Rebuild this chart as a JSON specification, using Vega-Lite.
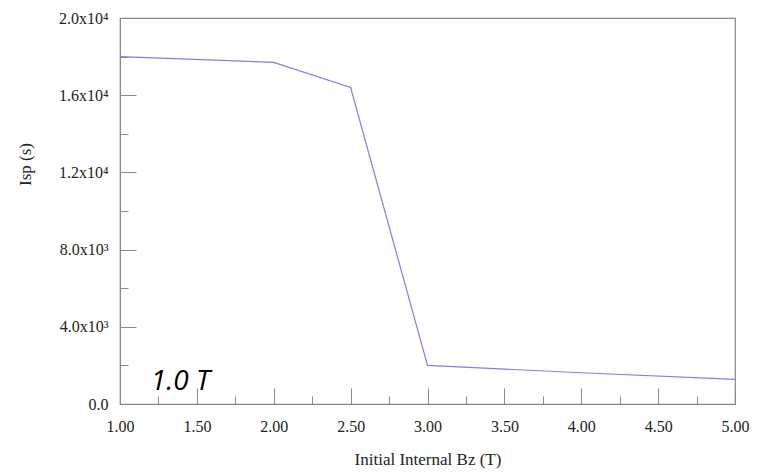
{
  "$schema": "https://vega.github.io/schema/vega-lite/v6.json",
  "width": 615,
  "height": 386,
  "autosize": "none",
  "padding": {"left": 120, "top": 18, "right": 22, "bottom": 69},
  "background": "white",
  "config": {
    "view": {"stroke": "#888888", "strokeWidth": 1.2},
    "axis": {
      "labelFont": "Liberation Serif",
      "titleFont": "Liberation Serif",
      "labelFontSize": 16,
      "titleFontSize": 17,
      "titleFontWeight": "normal",
      "labelColor": "#222222",
      "titleColor": "#222222",
      "domainColor": "#888888",
      "tickColor": "#888888",
      "grid": false
    }
  },
  "resolve": {"axis": {"x": "independent", "y": "independent"}},
  "layer": [
    {
      "data": {
        "values": [
          {"bz": 1.0, "isp": 18000},
          {"bz": 2.0, "isp": 17700},
          {"bz": 2.5, "isp": 16400},
          {"bz": 3.0, "isp": 2000},
          {"bz": 4.0, "isp": 1620},
          {"bz": 5.0, "isp": 1280}
        ]
      },
      "mark": {"type": "line", "color": "#7f7ff0", "strokeWidth": 1.2},
      "encoding": {
        "x": {
          "field": "bz",
          "type": "quantitative",
          "scale": {"domain": [1, 5], "nice": false, "zero": false},
          "axis": {
            "orient": "bottom",
            "title": "Initial Internal Bz (T)",
            "values": [1, 1.5, 2, 2.5, 3, 3.5, 4, 4.5, 5],
            "format": ".2f",
            "tickSize": -16,
            "labelPadding": 30,
            "titlePadding": 17,
            "labelFlush": false,
            "labelOverlap": false
          }
        },
        "y": {
          "field": "isp",
          "type": "quantitative",
          "scale": {"domain": [0, 20000], "nice": false},
          "axis": {
            "orient": "left",
            "title": "Isp (s)",
            "values": [0, 4000, 8000, 12000, 16000, 20000],
            "labelExpr": "datum.value == 0 ? '0.0' : datum.value == 4000 ? '4.0x10³' : datum.value == 8000 ? '8.0x10³' : datum.value == 12000 ? '1.2x10⁴' : datum.value == 16000 ? '1.6x10⁴' : '2.0x10⁴'",
            "tickSize": -16,
            "labelPadding": 28,
            "titleX": -86,
            "titleY": 146,
            "labelFlush": false,
            "labelOverlap": false
          }
        }
      }
    },
    {
      "data": {"values": [{"bz": 1.2, "isp": 725, "label": "1.0 T"}]},
      "mark": {
        "type": "text",
        "align": "left",
        "baseline": "alphabetic",
        "font": "Open Sans",
        "fontStyle": "italic",
        "fontSize": 28,
        "color": "#000000"
      },
      "encoding": {
        "x": {
          "field": "bz",
          "type": "quantitative",
          "axis": {
            "orient": "bottom",
            "title": null,
            "labels": false,
            "domain": false,
            "values": [1.25, 1.75, 2.25, 2.75, 3.25, 3.75, 4.25, 4.75],
            "tickSize": -8
          }
        },
        "y": {
          "field": "isp",
          "type": "quantitative",
          "axis": {
            "orient": "left",
            "title": null,
            "labels": false,
            "domain": false,
            "values": [2000, 6000, 10000, 14000, 18000],
            "tickSize": -8
          }
        },
        "text": {"field": "label"}
      }
    }
  ]
}
